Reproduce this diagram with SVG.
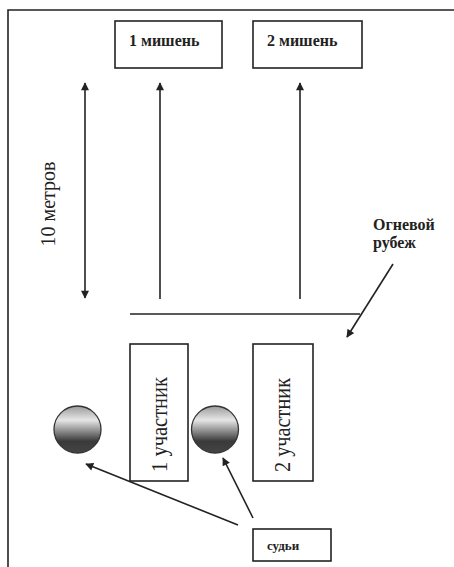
<svg xmlns="http://www.w3.org/2000/svg" width="454" height="567" viewBox="0 0 454 567">
<defs>
<style>
.box{fill:#fff;stroke:#222;stroke-width:1.6}
.ln{stroke:#222;stroke-width:1.6;fill:none}
.t{font-family:"Liberation Serif","Times New Roman",serif;fill:#222}
.b{font-weight:bold}
.ball{fill:url(#g);stroke:#333;stroke-width:1.3}
</style>
<linearGradient id="g" x1="0" y1="0" x2="0" y2="1">
<stop offset="0" stop-color="#9a9a9a"/>
<stop offset="0.3" stop-color="#e6e6e6"/>
<stop offset="0.75" stop-color="#3a3a3a"/>
<stop offset="1" stop-color="#444"/>
</linearGradient>
<marker id="ah" viewBox="0 0 10 10" refX="9" refY="5" markerWidth="9" markerHeight="8" markerUnits="userSpaceOnUse" orient="auto-start-reverse">
<path d="M0,0 L10,5 L0,10 z" fill="#222"/>
</marker>
</defs>
<rect width="454" height="567" fill="#fff"/>
<g id="frame">
<path class="ln" d="M8,567 V10 H454" stroke-width="2"/>
</g>
<g id="target1">
<rect class="box" x="115" y="21" width="107" height="47"/>
<text class="t b" x="129" y="46" font-size="16">1 мишень</text>
</g>
<g id="target2">
<rect class="box" x="253" y="21" width="109" height="47"/>
<text class="t b" x="267" y="46" font-size="16">2 мишень</text>
</g>
<g id="distance">
<text class="t" transform="translate(55,204) rotate(-90)" text-anchor="middle" font-size="20">10 метров</text>
</g>
<g id="firing-line-label">
<text class="t b" x="373" y="230" font-size="16">Огневой</text>
<text class="t b" x="373" y="248" font-size="16">рубеж</text>
</g>
<g id="firing-line">
<line class="ln" x1="130" y1="314" x2="360" y2="314"/>
</g>
<g id="participant1">
<rect class="box" x="130" y="344" width="58" height="137"/>
<text class="t" transform="translate(167,424.5) rotate(-90)" text-anchor="middle" font-size="24" textLength="95" lengthAdjust="spacingAndGlyphs">1 участник</text>
</g>
<g id="participant2">
<rect class="box" x="253" y="344" width="60" height="137"/>
<text class="t" transform="translate(290,425) rotate(-90)" text-anchor="middle" font-size="24" textLength="94" lengthAdjust="spacingAndGlyphs">2 участник</text>
</g>
<g id="judge1">
<circle class="ball" cx="77.5" cy="429.5" r="23.5"/>
</g>
<g id="judge2">
<circle class="ball" cx="215" cy="429.5" r="23.5"/>
</g>
<g id="judges">
<rect class="box" x="253" y="529" width="78" height="32"/>
<text class="t b" x="267" y="550" font-size="13">судьи</text>
</g>
<g id="connectors">
<line class="ln" x1="85" y1="83" x2="85" y2="298" marker-start="url(#ah)" marker-end="url(#ah)"/>
<line class="ln" x1="160" y1="299" x2="160" y2="83" marker-end="url(#ah)"/>
<line class="ln" x1="300" y1="299" x2="300" y2="83" marker-end="url(#ah)"/>
<line class="ln" x1="393" y1="264" x2="347" y2="337" marker-end="url(#ah)"/>
<line class="ln" x1="238" y1="525" x2="86" y2="464" marker-end="url(#ah)"/>
<line class="ln" x1="253" y1="518" x2="223" y2="458" marker-end="url(#ah)"/>
</g>
</svg>
